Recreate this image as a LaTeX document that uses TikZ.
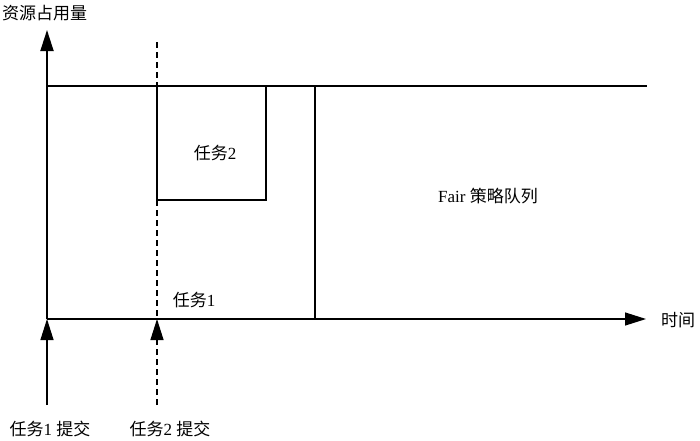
\documentclass[tikz,border=0pt]{standalone}
\usepackage{fontspec}
\setmainfont{Liberation Serif}
\newfontfamily\cjk{Noto Sans CJK SC}
\usetikzlibrary{arrows.meta}
\begin{document}
\begin{tikzpicture}[x=1pt,y=-1pt,
  lbl/.style={inner sep=0pt,font=\fontsize{17}{19}\selectfont},
  thin line/.style={line width=1.2pt},
  axisline/.style={line width=1.8pt,-{Triangle[length=21pt,width=13pt]}},
  dashline/.style={line width=1.2pt,dash pattern=on 6pt off 4pt},
  tip/.style={-{Triangle[length=21pt,width=13pt]}}]
\useasboundingbox (0,0) rectangle (700,440);
% coordinates
\coordinate (O) at (47,319);
\coordinate (Ytop) at (47,30);
\coordinate (Xend) at (646,319);
\coordinate (TL) at (47,86);
\coordinate (TR) at (647,86);
\coordinate (Dtop) at (157,42);
\coordinate (D1) at (157,86);
\coordinate (D2) at (157,200);
\coordinate (D3) at (157,319);
\coordinate (B2) at (266,200);
\coordinate (B1) at (266,86);
\coordinate (Q1) at (315,86);
\coordinate (Q2) at (315,319);
\coordinate (S1) at (47,405);
\coordinate (S2) at (157,405);
% axes
\draw[axisline] (O) -- (Ytop);
\draw[thin line,tip] (O) -- (Xend);
% top line
\draw[thin line] (TL) -- (TR);
% dashed submission line
\draw[dashline] (Dtop) -- (D1);
\draw[dashline] (D2) -- (D3);
% task 2 box
\draw[thin line] (D1) -- (D2) -- (B2) -- (B1);
% fair queue boundary
\draw[thin line] (Q1) -- (Q2);
% submit arrows
\draw[thin line,tip] (S1) -- (O);
\draw[dashline,tip] (S2) -- (D3);
% labels
\node[lbl,anchor=west] (ylab) at (2,13) {\cjk 资源占用量};
\node[lbl,anchor=west] (xlab) at (661,320) {\cjk 时间};
\node[lbl] (t2) at (215,153) {{\cjk 任务}2};
\node[lbl] (t1) at (194,300) {{\cjk 任务}1};
\node[lbl] (fair) at (488,196) {Fair {\cjk 策略队列}};
\node[lbl] (s1) at (50,429) {{\cjk 任务}1 {\cjk 提交}};
\node[lbl] (s2) at (170,429) {{\cjk 任务}2 {\cjk 提交}};
\end{tikzpicture}
\end{document}
